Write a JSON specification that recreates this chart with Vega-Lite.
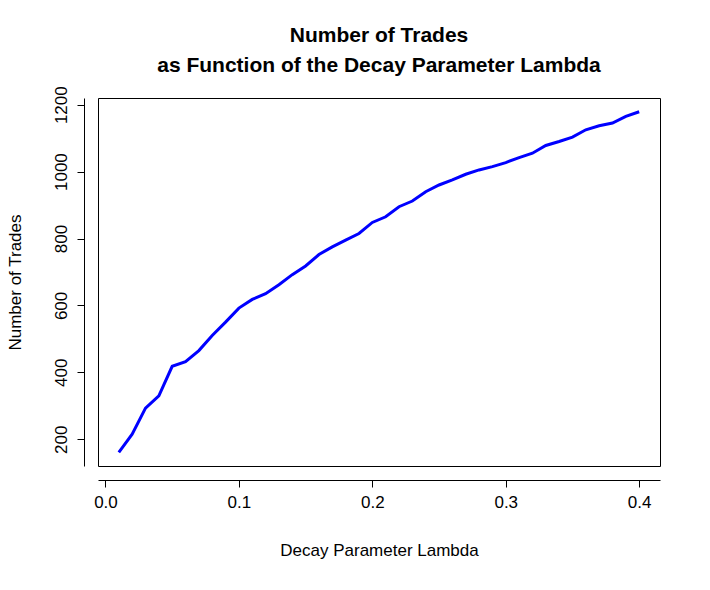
{
  "$schema": "https://vega.github.io/schema/vega-lite/v6.json",
  "width": 562,
  "height": 368,
  "autosize": "none",
  "padding": {"left": 98, "top": 98, "right": 50, "bottom": 124},
  "background": "white",
  "config": {
    "view": {"stroke": "black", "strokeWidth": 1},
    "font": "Liberation Sans",
    "axis": {
      "grid": false,
      "domainColor": "black",
      "tickColor": "black",
      "tickSize": 7,
      "labelFontSize": 17,
      "labelColor": "black",
      "titleFontSize": 17,
      "titleFontWeight": "normal",
      "titleColor": "black",
      "offset": 14
    }
  },
  "title": {
    "text": ["Number of Trades", "as Function of the Decay Parameter Lambda"],
    "fontSize": 21,
    "fontWeight": "bold",
    "color": "black",
    "lineHeight": 30,
    "offset": 10,
    "anchor": "middle"
  },
  "data": {
    "values": [
      {"lambda": 0.01, "trades": 161}, {"lambda": 0.02, "trades": 215},
      {"lambda": 0.03, "trades": 293}, {"lambda": 0.04, "trades": 330},
      {"lambda": 0.05, "trades": 418}, {"lambda": 0.06, "trades": 432},
      {"lambda": 0.07, "trades": 465}, {"lambda": 0.08, "trades": 510},
      {"lambda": 0.09, "trades": 550}, {"lambda": 0.10, "trades": 592},
      {"lambda": 0.11, "trades": 618}, {"lambda": 0.12, "trades": 635},
      {"lambda": 0.13, "trades": 662}, {"lambda": 0.14, "trades": 692},
      {"lambda": 0.15, "trades": 718}, {"lambda": 0.16, "trades": 752},
      {"lambda": 0.17, "trades": 775}, {"lambda": 0.18, "trades": 795},
      {"lambda": 0.19, "trades": 815}, {"lambda": 0.20, "trades": 848},
      {"lambda": 0.21, "trades": 865}, {"lambda": 0.22, "trades": 895},
      {"lambda": 0.23, "trades": 912}, {"lambda": 0.24, "trades": 940},
      {"lambda": 0.25, "trades": 960}, {"lambda": 0.26, "trades": 975},
      {"lambda": 0.27, "trades": 992}, {"lambda": 0.28, "trades": 1005},
      {"lambda": 0.29, "trades": 1015}, {"lambda": 0.30, "trades": 1027},
      {"lambda": 0.31, "trades": 1042}, {"lambda": 0.32, "trades": 1055},
      {"lambda": 0.33, "trades": 1078}, {"lambda": 0.34, "trades": 1090},
      {"lambda": 0.35, "trades": 1103}, {"lambda": 0.36, "trades": 1125},
      {"lambda": 0.37, "trades": 1137}, {"lambda": 0.38, "trades": 1145},
      {"lambda": 0.39, "trades": 1165}, {"lambda": 0.40, "trades": 1179}
    ]
  },
  "mark": {"type": "line", "color": "#0000ff", "strokeWidth": 3},
  "encoding": {
    "x": {
      "field": "lambda", "type": "quantitative",
      "scale": {"domain": [-0.0056, 0.4156], "nice": false, "zero": false},
      "axis": {"values": [0, 0.1, 0.2, 0.3, 0.4], "format": ".1f", "title": "Decay Parameter Lambda", "titlePadding": 32, "labelPadding": 7}
    },
    "y": {
      "field": "trades", "type": "quantitative",
      "scale": {"domain": [120, 1220], "nice": false, "zero": false},
      "axis": {"values": [200, 400, 600, 800, 1000, 1200], "format": "d", "title": "Number of Trades", "labelAngle": -90, "labelAlign": "center", "labelBaseline": "bottom", "labelPadding": 7, "titlePadding": 28}
    }
  }
}
